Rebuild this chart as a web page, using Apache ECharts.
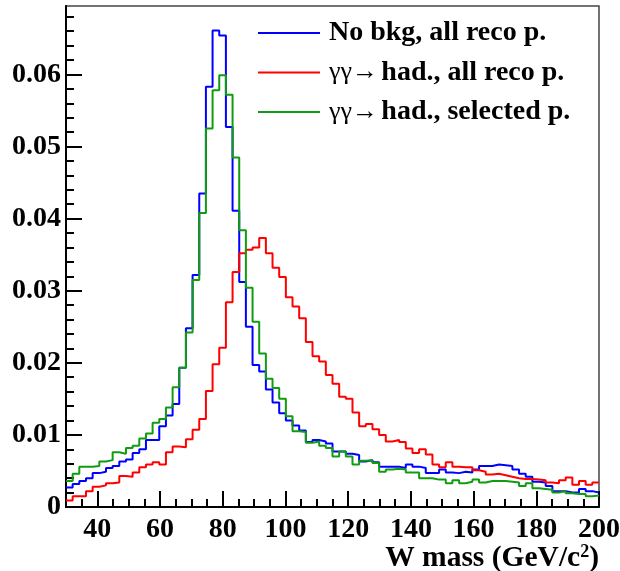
<!DOCTYPE html>
<html>
<head>
<meta charset="utf-8">
<script src="https://cdn.jsdelivr.net/npm/echarts@6/dist/echarts.min.js"></script>
<style>
html,body{margin:0;padding:0;background:#fff;}
#chart{width:620px;height:571px;}
</style>
</head>
<body>
<div id="chart"></div>
<script>
// Histogram range (W mass, GeV/c^2)
const X_MIN = 30;
const X_MAX = 200;

// Normalised bin contents, 80 bins from 30 to 200
const noBkgAll = [
0.0027,0.0032,0.0036,0.0040,0.0047,0.0049,0.0054,0.0057,0.0063,0.0066,
0.0075,0.0080,0.0093,0.0093,0.0112,0.0127,0.0143,0.0193,0.0248,0.0322,
0.0435,0.0583,0.0661,0.0654,0.0527,0.0411,0.0312,0.0250,0.0197,0.0188,
0.0163,0.0145,0.0130,0.0120,0.0113,0.0106,0.0090,0.0093,0.0091,0.0088,
0.0077,0.0077,0.0074,0.0072,0.0063,0.0065,0.0062,0.0056,0.0056,0.0056,
0.0054,0.0059,0.0056,0.0054,0.0047,0.0047,0.0052,0.0048,0.0047,0.0049,
0.0048,0.0052,0.0057,0.0057,0.0059,0.0058,0.0057,0.0052,0.0046,0.0042,
0.0035,0.0034,0.0029,0.0022,0.0022,0.0020,0.0020,0.0025,0.0022,0.0020
];
const ggHadAll = [
0.0009,0.0015,0.0015,0.0022,0.0028,0.0030,0.0033,0.0034,0.0043,0.0042,
0.0048,0.0055,0.0059,0.0062,0.0059,0.0076,0.0084,0.0083,0.0094,0.0107,
0.0122,0.0161,0.0198,0.0221,0.0284,0.0326,0.0352,0.0357,0.0360,0.0373,
0.0352,0.0332,0.0319,0.0291,0.0278,0.0262,0.0229,0.0209,0.0202,0.0183,
0.0171,0.0153,0.0150,0.0131,0.0112,0.0115,0.0108,0.0100,0.0091,0.0093,
0.0090,0.0081,0.0075,0.0080,0.0073,0.0059,0.0055,0.0062,0.0056,0.0055,
0.0055,0.0051,0.0049,0.0045,0.0046,0.0044,0.0042,0.0040,0.0039,0.0039,
0.0038,0.0037,0.0034,0.0033,0.0037,0.0041,0.0031,0.0036,0.0031,0.0034
];
const ggHadSel = [
0.0036,0.0046,0.0056,0.0056,0.0057,0.0063,0.0065,0.0076,0.0074,0.0082,
0.0085,0.0095,0.0102,0.0117,0.0122,0.0138,0.0166,0.0193,0.0242,0.0315,
0.0408,0.0525,0.0578,0.0599,0.0572,0.0485,0.0384,0.0304,0.0257,0.0213,
0.0178,0.0165,0.0150,0.0126,0.0105,0.0104,0.0089,0.0091,0.0085,0.0082,
0.0070,0.0077,0.0070,0.0059,0.0064,0.0065,0.0061,0.0049,0.0052,0.0053,
0.0052,0.0048,0.0048,0.0040,0.0040,0.0038,0.0038,0.0033,0.0037,0.0033,
0.0035,0.0038,0.0034,0.0036,0.0036,0.0036,0.0035,0.0034,0.0029,0.0033,
0.0026,0.0025,0.0024,0.0020,0.0022,0.0019,0.0018,0.0018,0.0015,0.0016
];

const seriesNames = ['No bkg, all reco p.', 'γγ→ had., all reco p.', 'γγ→ had., selected p.'];

// Tick labels / tick positions
const xMajorTicks = [40, 60, 80, 100, 120, 140, 160, 180, 200];
const xMinorTicks = [30,35,40,45,50,55,60,65,70,75,80,85,90,95,100,105,110,115,120,125,130,135,140,145,150,155,160,165,170,175,180,185,190,195,200];
const yMajorTicks = [0, 0.01, 0.02, 0.03, 0.04, 0.05, 0.06];
const yMinorTicks = [0.002,0.004,0.006,0.008,0.012,0.014,0.016,0.018,0.022,0.024,0.026,0.028,0.032,0.034,0.036,0.038,0.042,0.044,0.046,0.048,0.052,0.054,0.056,0.058,0.062,0.064,0.066,0.068];
const Y_MAX = 0.0695;

function histPoints(vals) {
  const bw = (X_MAX - X_MIN) / vals.length;
  const pts = vals.map((v, i) => [X_MIN + i * bw, v]);
  pts.push([X_MAX, vals[vals.length - 1]]);
  return pts;
}

const FONT = 'Liberation Serif';
const FS = 28;
const colors = ['#0000ff', '#ff0000', '#109c10'];

const chart = echarts.init(document.getElementById('chart'), null, {renderer: 'canvas'});

const mkSeries = (name, vals, color) => ({
  name: name, type: 'line', step: 'end', symbol: 'none',
  xAxisIndex: 0, yAxisIndex: 0,
  data: histPoints(vals),
  lineStyle: {color: color, width: 2},
  itemStyle: {color: color},
  silent: true, animation: false
});

chart.setOption({
  animation: false,
  backgroundColor: '#fff',
  title: {
    text: '{a|W mass (GeV/c}{s|2}{a|)}',
    right: 21, top: 543, padding: 0,
    textStyle: {
      rich: {
        a: {fontFamily: FONT, fontWeight: 'bold', fontSize: 29.5, color: '#000', lineHeight: 30},
        s: {fontFamily: FONT, fontWeight: 'bold', fontSize: 18, color: '#000', lineHeight: 30, verticalAlign: 'top', padding: [0, 0, 10, 0]}
      }
    }
  },
  grid: {left: 66, top: 6, width: 533, height: 501, containLabel: false, outerBoundsMode: 'none',
         show: true, borderColor: '#444', borderWidth: 1.5, backgroundColor: 'transparent'},
  legend: {
    orient: 'vertical', left: 253, top: 14,
    icon: 'rect', itemWidth: 62, itemHeight: 2, itemGap: 11.5,
    data: seriesNames,
    formatter: function (name) {
      if (name.indexOf('γγ→') === 0) {
        return '{g|γγ→} {b|' + name.slice(4) + '}';
      }
      return '{b|' + name + '}';
    },
    textStyle: {
      padding: [0, 0, 0, 4],
      rich: {
        b: {fontFamily: FONT, fontWeight: 'bold', fontSize: FS, color: '#000', lineHeight: 28},
        g: {fontFamily: FONT, fontWeight: 'normal', fontSize: 26, color: '#000', lineHeight: 28}
      }
    }
  },
  xAxis: [
    {
      type: 'value', min: X_MIN, max: X_MAX, position: 'bottom',
      axisLine: {show: true, onZero: false, lineStyle: {color: '#000', width: 2}},
      axisTick: {show: true, inside: true, length: 16, customValues: xMajorTicks, lineStyle: {color: '#000', width: 2}},
      axisLabel: {show: true, customValues: xMajorTicks, margin: 9, color: '#000', fontFamily: FONT, fontWeight: 'bold', fontSize: FS},
      splitLine: {show: false}
    },
    {
      type: 'value', min: X_MIN, max: X_MAX, position: 'bottom',
      axisLine: {show: false, onZero: false},
      axisTick: {show: true, inside: true, length: 8, customValues: xMinorTicks, lineStyle: {color: '#000', width: 2}},
      axisLabel: {show: false},
      splitLine: {show: false}
    }
  ],
  yAxis: [
    {
      type: 'value', min: 0, max: Y_MAX, position: 'left',
      axisLine: {show: true, onZero: false, lineStyle: {color: '#000', width: 2}},
      axisTick: {show: true, inside: true, length: 16, customValues: yMajorTicks, lineStyle: {color: '#000', width: 2}},
      axisLabel: {show: true, customValues: yMajorTicks, margin: 5, color: '#000', fontFamily: FONT, fontWeight: 'bold', fontSize: FS,
        formatter: v => (v === 0 ? '0' : v.toFixed(2))},
      splitLine: {show: false}
    },
    {
      type: 'value', min: 0, max: Y_MAX, position: 'left',
      axisLine: {show: false, onZero: false},
      axisTick: {show: true, inside: true, length: 8, customValues: yMinorTicks, lineStyle: {color: '#000', width: 2}},
      axisLabel: {show: false},
      splitLine: {show: false}
    }
  ],
  series: [
    mkSeries(seriesNames[0], noBkgAll, colors[0]),
    mkSeries(seriesNames[1], ggHadAll, colors[1]),
    mkSeries(seriesNames[2], ggHadSel, colors[2])
  ]
});
</script>
</body>
</html>
